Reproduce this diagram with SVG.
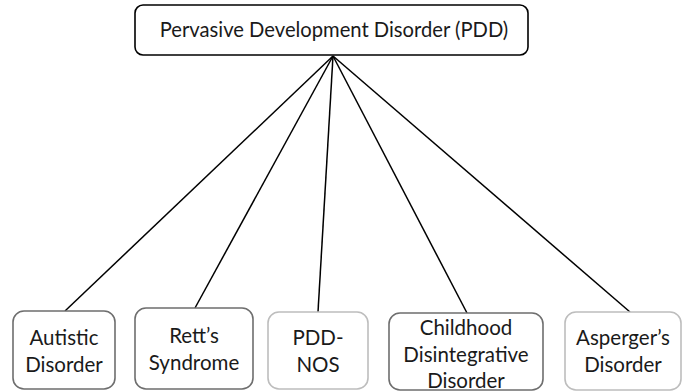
<svg xmlns="http://www.w3.org/2000/svg" width="683" height="392" viewBox="0 0 683 392">
<style>
text{font-family:Lato,"Open Sans","Liberation Sans",sans-serif;fill:#1a1a1a;text-anchor:middle}
.top{font-size:20.2px}
.lbl{font-size:20.5px}
.b{fill:#fff;stroke-width:1.6}
.dark{stroke:#6e6e6e}
.light{stroke:#bdbdbd}
.c line{stroke:#000;stroke-width:1.5}
</style>
<rect width="683" height="392" fill="#fff"/>
<g class="c" id="connectors">
<line x1="333" y1="56" x2="65" y2="311"/>
<line x1="333" y1="56" x2="195" y2="308"/>
<line x1="333" y1="56" x2="318" y2="312"/>
<line x1="333" y1="56" x2="467" y2="313"/>
<line x1="333" y1="56" x2="630" y2="312"/>
</g>
<g id="pdd">
<rect x="135" y="5" width="393" height="50" rx="8" fill="#fff" stroke="#000" stroke-width="1.6"/>
<text class="top" x="334" y="37">Pervasive Development Disorder (PDD)</text>
</g>
<g id="autistic">
<rect class="b dark" x="13" y="311" width="102" height="78" rx="11"/>
<text class="lbl" x="64" y="345">Autistic</text>
<text class="lbl" x="64" y="372">Disorder</text>
</g>
<g id="rett">
<rect class="b dark" x="135" y="308" width="118" height="81" rx="11"/>
<text class="lbl" x="194" y="343">Rett’s</text>
<text class="lbl" x="194" y="370">Syndrome</text>
</g>
<g id="pddnos">
<rect class="b light" x="268" y="312" width="100" height="77" rx="11"/>
<text class="lbl" x="318" y="345">PDD-</text>
<text class="lbl" x="318" y="372">NOS</text>
</g>
<g id="childhood">
<rect class="b dark" x="389" y="313" width="154" height="77" rx="11"/>
<text class="lbl" x="466" y="335">Childhood</text>
<text class="lbl" x="466" y="362">Disintegrative</text>
<text class="lbl" x="466" y="388">Disorder</text>
</g>
<g id="asperger">
<rect class="b light" x="565" y="312" width="116" height="78" rx="11"/>
<text class="lbl" x="623" y="345">Asperger’s</text>
<text class="lbl" x="623" y="372">Disorder</text>
</g>
</svg>
